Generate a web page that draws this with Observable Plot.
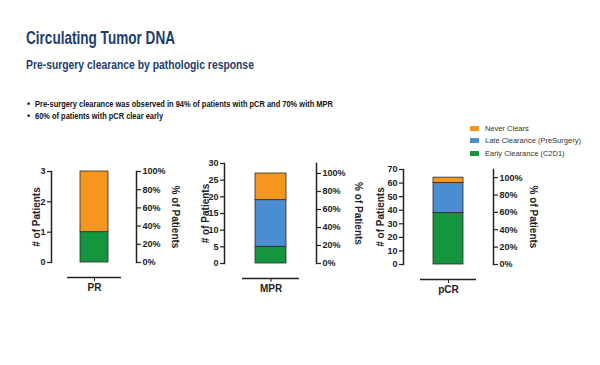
<!DOCTYPE html>
<html><head><meta charset="utf-8">
<script src="https://cdn.jsdelivr.net/npm/d3@7"></script>
<script src="https://cdn.jsdelivr.net/npm/@observablehq/plot@0.6"></script>
<style>
body{margin:0;background:#fff;}
#page{position:relative;width:600px;height:365px;overflow:hidden;font-family:"Liberation Sans",Arial,sans-serif;}
.fit{position:absolute;white-space:nowrap;font-weight:bold;transform-origin:0 50%;}
#title{left:26px;top:27px;font-size:19px;color:#1d3c6e;}
#subtitle{left:26px;top:57px;font-size:13.5px;color:#1d3c6e;}
.bul{position:absolute;left:27px;font-size:9px;font-weight:bold;color:#111;}
.btxt{left:35px;font-size:9.5px;color:#111;}
#legend{position:absolute;left:470px;top:122px;font-size:7.5px;color:#333;}
#legend div{height:12.5px;display:flex;align-items:center;}
#legend i{display:inline-block;width:9px;height:5px;margin-right:6px;}
.panel{position:absolute;top:150px;}
</style></head>
<body><div id="page">
<div id="title" class="fit" data-w="149">Circulating Tumor DNA</div>
<div id="subtitle" class="fit" data-w="228">Pre-surgery clearance by pathologic response</div>
<div class="bul" style="top:99px">•</div>
<div class="bul" style="top:111px">•</div>
<div id="b1" class="fit btxt" style="top:98px" data-w="298"></div>
<div id="b2" class="fit btxt" style="top:110px" data-w="128"></div>
<div id="legend"></div>
</div>
<script>
const categories = ["PR", "MPR", "pCR"];
const series = ["Early Clearance (C2D1)", "Late Clearance (PreSurgery)", "Never Clears"];
const earlyClearance = [1, 5, 38];
const lateClearance = [0, 14, 22];
const neverClears = [2, 8, 4];
const yMax = [3, 30, 70];
const yTickStep = [1, 5, 10];
const pctTicks = [0, 20, 40, 60, 80, 100];
const legendOrder = ["Never Clears", "Late Clearance (PreSurgery)", "Early Clearance (C2D1)"];
const bullets = [
  "Pre-surgery clearance was observed in 94% of patients with pCR and 70% with MPR",
  "60% of patients with pCR clear early"
];
const colors = {"Early Clearance (C2D1)": "#14963f", "Late Clearance (PreSurgery)": "#4a8dd0", "Never Clears": "#f5961f"};

document.getElementById("b1").textContent = bullets[0];
document.getElementById("b2").textContent = bullets[1];
document.querySelectorAll(".fit").forEach(el => {
  const w = el.getBoundingClientRect().width;
  el.style.transform = `scaleX(${(+el.dataset.w / w).toFixed(3)})`;
});
const leg = document.getElementById("legend");
legendOrder.forEach(s => {
  const d = document.createElement("div");
  d.innerHTML = `<i style="background:${colors[s]}"></i>${s}`;
  leg.appendChild(d);
});

const layout = [
  {left: 20, width: 170, ml: 31, mr: 54, mt: 21, mb: 38, ldx: -15, rdx: 39},
  {left: 195, width: 175, ml: 29, mr: 54, mt: 13, mb: 37, ldx: -19, rdx: 42},
  {left: 370, width: 180, ml: 33, mr: 57, mt: 19, mb: 36, ldx: -23, rdx: 40}
];

const page = document.getElementById("page");
categories.forEach((cat, i) => {
  const L = layout[i];
  const total = earlyClearance[i] + lateClearance[i] + neverClears[i];
  const rows = [
    {cat, series: series[0], value: earlyClearance[i]},
    {cat, series: series[1], value: lateClearance[i]},
    {cat, series: series[2], value: neverClears[i]}
  ];
  const leftTicks = d3.range(0, yMax[i] + 1e-9, yTickStep[i]);
  const chart = Plot.plot({
    width: L.width, height: 150,
    marginLeft: L.ml, marginRight: L.mr, marginTop: L.mt, marginBottom: L.mb,
    style: {fontFamily: "'Liberation Sans', Arial, sans-serif", fontSize: "9px", fontWeight: "bold", color: "#222", background: "transparent", overflow: "visible"},
    x: {type: "band", domain: [cat], padding: 0.5},
    y: {domain: [0, yMax[i]]},
    color: {domain: series, range: series.map(s => colors[s])},
    marks: [
      Plot.barY(rows, Plot.stackY({order: series}, {x: "cat", y: "value", fill: "series", stroke: "#2a2a2a", strokeWidth: 0.8})),
      Plot.axisY({anchor: "left", ticks: leftTicks, tickFormat: d => String(d), tickSize: 4, tickPadding: 2, label: null, strokeWidth: 1.2}),
      Plot.axisY({anchor: "right", ticks: pctTicks.map(p => p / 100 * total), tickFormat: v => Math.round(v / total * 100) + "%", tickSize: 4, tickPadding: 2, label: null, strokeWidth: 1.2}),
      Plot.frame({anchor: "left", stroke: "#222", strokeWidth: 1.5}),
      Plot.frame({anchor: "right", stroke: "#222", strokeWidth: 1.5}),
      Plot.tickY([0], {x: () => cat, stroke: "#222", strokeWidth: 1.5, insetLeft: -13, insetRight: -13, dy: 15}),
      Plot.axisX({anchor: "bottom", tickSize: 4, tickPadding: 2, dy: 15, label: null, fontSize: 10}),
      Plot.text(["# of Patients"], {frameAnchor: "left", textAnchor: "middle", rotate: -90, dx: L.ldx, fontSize: 10, fontWeight: "bold", fill: "#222"}),
      Plot.text(["% of Patients"], {frameAnchor: "right", textAnchor: "middle", rotate: 90, dx: L.rdx, fontSize: 10, fontWeight: "bold", fill: "#222"})
    ]
  });
  chart.classList.add("panel");
  chart.style.left = L.left + "px";
  page.appendChild(chart);
});
</script>
</body></html>
